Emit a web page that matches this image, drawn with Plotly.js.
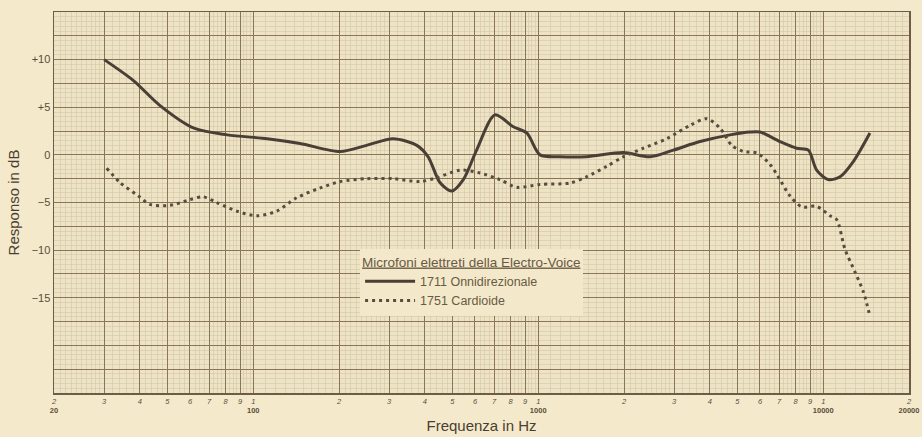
<!DOCTYPE html>
<html>
<head>
<meta charset="utf-8">
<script src="https://cdn.plot.ly/plotly-3.0.1.min.js"></script>
<style>
html,body{margin:0;padding:0;background:#f4eacb;}
#chart{width:922px;height:437px;}
</style>
</head>
<body>
<div id="chart"></div>
<script>
// Series: 1711 Onnidirezionale (solid)
var freqOmni = [30, 38, 47, 62, 81, 112, 146, 202, 250, 310, 375, 411, 452, 497, 546, 608, 705, 818, 912, 1015, 1192, 1478, 1990, 2467, 2979, 3697, 4712, 5537, 6000, 7047, 8070, 8868, 9483, 10421, 11454, 12750, 14584];
var dbOmni   = [10.0, 7.8, 5.2, 2.8, 2.1, 1.7, 1.2, 0.35, 1.0, 1.7, 1.0, -0.2, -2.9, -3.8, -2.6, 0.5, 4.2, 2.95, 2.3, 0.0, -0.2, -0.2, 0.25, -0.2, 0.5, 1.4, 2.1, 2.4, 2.4, 1.4, 0.7, 0.5, -1.6, -2.6, -2.3, -0.7, 2.3];

// Series: 1751 Cardioide (dotted)
var freqCard = [30.6, 34.1, 39.5, 43.4, 51, 60, 66.7, 74.4, 87.5, 103, 121, 142, 171, 202, 250, 310, 385, 440, 532, 625, 734, 840, 1015, 1294, 1478, 1741, 1990, 2340, 2825, 3411, 3903, 4347, 4776, 5246, 5846, 6509, 7047, 7640, 8396, 9483, 10570, 11150, 11920, 12930, 13840, 14600];
var dbCard   = [-1.4, -2.9, -4.3, -5.2, -5.3, -4.7, -4.4, -5.0, -5.9, -6.4, -5.9, -4.5, -3.5, -2.8, -2.5, -2.5, -2.8, -2.4, -1.6, -1.9, -2.6, -3.4, -3.1, -2.95, -2.3, -1.2, -0.2, 0.7, 1.7, 3.1, 3.8, 2.8, 1.0, 0.35, 0.2, -1.0, -2.6, -4.3, -5.45, -5.4, -6.4, -6.8, -9.9, -12.3, -14.4, -17.0];

// Axis ticks
var xTickVals = [20,30,40,50,60,70,80,90,100,200,300,400,500,600,700,800,900,1000,2000,3000,4000,5000,6000,7000,8000,9000,10000,20000];
var xTickText = ['<i>2</i><br><b>20</b>','<i>3</i>','<i>4</i>','<i>5</i>','<i>6</i>','<i>7</i>','<i>8</i>','<i>9</i>','<i>1</i><br><b>100</b>',
  '<i>2</i>','<i>3</i>','<i>4</i>','<i>5</i>','<i>6</i>','<i>7</i>','<i>8</i>','<i>9</i>','<i>1</i><br><b>1000</b>',
  '<i>2</i>','<i>3</i>','<i>4</i>','<i>5</i>','<i>6</i>','<i>7</i>','<i>8</i>','<i>9</i>','<i>1</i><br><b>10000</b>','<i>2</i><br><b>20000</b>'];
var yTickVals = [-25,-22.5,-20,-17.5,-15,-12.5,-10,-7.5,-5,-2.5,0,2.5,5,7.5,10,12.5,15];
var yTickText = ['','','','','\u221215','','\u221210','','\u22125','','0','','+5','','+10','',''];

// fine graph-paper grid positions (log paper subdivisions)
var xMinor = [];
[10,100,1000,10000].forEach(function(b){
  for (var d = 1; d < 10; d++) {
    var step = d < 3 ? 0.1 : (d < 5 ? 0.2 : 0.25);
    for (var s = d + step; s < d + 1 - 1e-9; s += step) {
      var v = +(s * b).toFixed(4);
      if (v > 20 && v < 20000) xMinor.push(v);
    }
  }
});

var inkSolid = '#4a3f36';
var inkDot = '#5a4b3f';
var textCol = '#5b4c3c';

var traces = [
  {x: freqOmni, y: dbOmni, type: 'scatter', mode: 'lines', name: '1711 Onnidirezionale',
   line: {color: inkSolid, width: 3, shape: 'spline', smoothing: 0.8}},
  {x: freqCard, y: dbCard, type: 'scatter', mode: 'lines', name: '1751 Cardioide',
   line: {color: inkDot, width: 3, shape: 'spline', smoothing: 0.8, dash: '3px,4px'}}
];

var layout = {
  width: 922, height: 437,
  margin: {l: 54, r: 13, t: 12, b: 44},
  paper_bgcolor: '#f4eacb',
  plot_bgcolor: '#eee4c5',
  font: {family: 'Liberation Sans, Arial, sans-serif', color: textCol},
  showlegend: true,
  legend: {
    x: 0.358, y: 0.378, xanchor: 'left', yanchor: 'top',
    bgcolor: '#f3e9ca', borderwidth: 0,
    font: {size: 12.5, color: '#6a5944'},
    itemwidth: 50, tracegroupgap: 0,
    title: {text: '<u>Microfoni elettreti della Electro-Voice</u>', font: {size: 13.5, color: '#6a5944'}, side: 'top'}
  },
  xaxis: {
    type: 'log', range: [Math.log10(20), Math.log10(20000)],
    tickmode: 'array', tickvals: xTickVals, ticktext: xTickText,
    tickfont: {size: 7.5, color: '#5b4c3c'}, ticks: '', ticklen: 0, tickangle: 0,
    showgrid: true, gridcolor: '#8a7656', gridwidth: 1,
    minor: {tickmode: 'array', tickvals: xMinor, showgrid: true, gridcolor: '#d2c6a5', gridwidth: 0.6, ticks: ''},
    showline: true, linecolor: '#6e5c45', linewidth: 1.5, mirror: true,
    zeroline: false,
    title: {text: 'Frequenza in Hz', font: {size: 15, color: '#4a3e32'}, standoff: 6}
  },
  yaxis: {
    range: [-25, 15],
    tickmode: 'array', tickvals: yTickVals, ticktext: yTickText,
    tickfont: {size: 11, color: '#5b4c3c'}, ticks: '',
    showgrid: true, gridcolor: '#8a7656', gridwidth: 1,
    minor: {dtick: 0.5, showgrid: true, gridcolor: '#d2c6a5', gridwidth: 0.6, ticks: ''},
    showline: true, linecolor: '#6e5c45', linewidth: 1.5, mirror: true,
    zeroline: false,
    title: {text: 'Responso in dB', font: {size: 15, color: '#4a3e32'}, standoff: 8}
  }
};

Plotly.newPlot('chart', traces, layout, {displayModeBar: false, staticPlot: true});
</script>
</body>
</html>
